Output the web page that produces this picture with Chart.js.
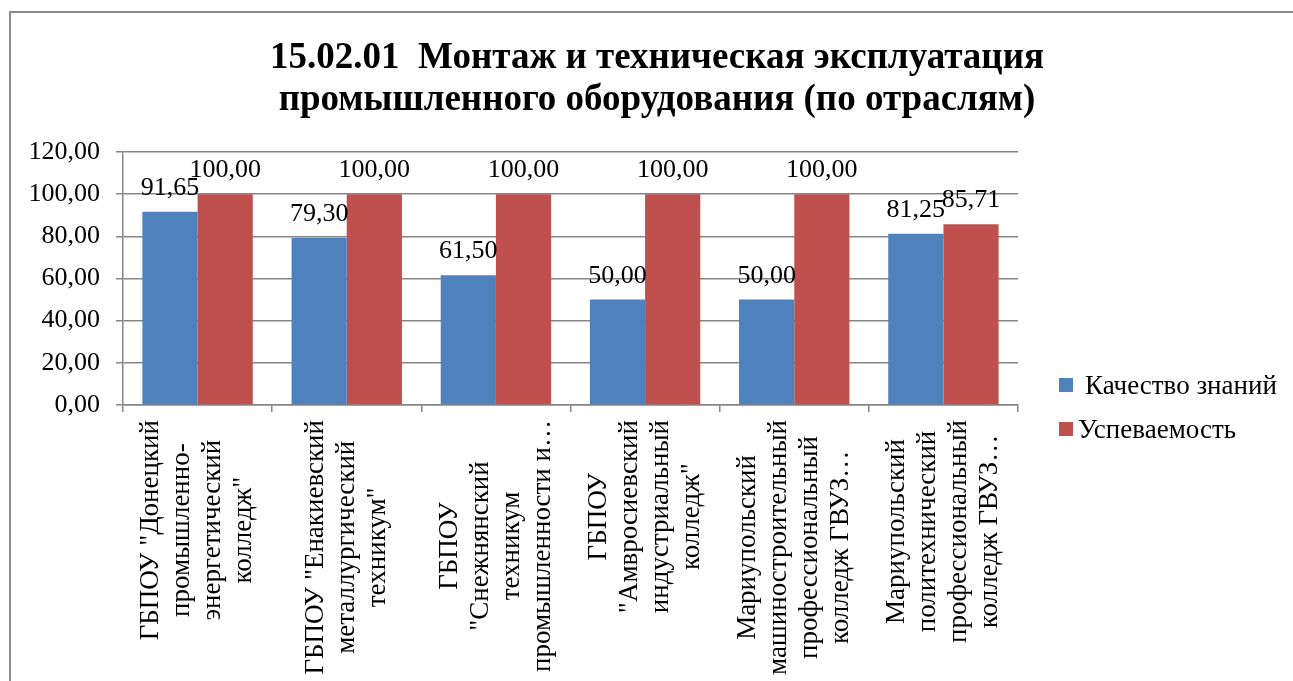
<!DOCTYPE html>
<html>
<head>
<meta charset="utf-8">
<script src="https://cdn.jsdelivr.net/npm/chart.js@4/dist/chart.umd.min.js"></script>
<style>
  html, body { margin: 0; padding: 0; background: #fff; overflow: hidden; }
  #frame { position: absolute; left: 9px; top: 11px; width: 1400px; height: 800px; border: 2px solid #8a8a8a; }
  #wrap { position: absolute; left: 0; top: 0; width: 1293px; height: 681px; }
</style>
</head>
<body>
<div id="frame"></div>
<div id="wrap"><canvas id="chart" width="1293" height="681"></canvas></div>
<script>
// data
const titleLines = ['15.02.01  Монтаж и техническая эксплуатация', 'промышленного оборудования (по отраслям)'];
const categories = [
    ['ГБПОУ "Донецкий', 'промышленно-', 'энергетический', 'колледж"'],
    ['ГБПОУ "Енакиевский', 'металлургический', 'техникум"'],
    ['ГБПОУ', '"Снежнянский', 'техникум', 'промышленности и…'],
    ['ГБПОУ', '"Амвросиевский', 'индустриальный', 'колледж"'],
    ['Мариупольский', 'машиностроительный', 'профессиональный', 'колледж ГВУЗ…'],
    ['Мариупольский', 'политехнический', 'профессиональный', 'колледж ГВУЗ…']
];
const seriesNames = ['Качество знаний', 'Успеваемость'];
const qualityValues = [91.65, 79.30, 61.50, 50.00, 50.00, 81.25];
const progressValues = [100.00, 100.00, 100.00, 100.00, 100.00, 85.71];
const yTicks = [0, 20, 40, 60, 80, 100, 120];

const SERIF = '"Liberation Serif", "Times New Roman", serif';
const fmt = v => v.toFixed(2).replace('.', ',');

// title is centred over the whole picture, not only over the plot
const pageTitle = {
    id: 'pageTitle',
    afterDraw(chart) {
        const ctx = chart.ctx;
        ctx.save();
        ctx.font = 'bold 37px ' + SERIF;
        ctx.fillStyle = '#000';
        ctx.textAlign = 'center';
        ctx.textBaseline = 'middle';
        titleLines.forEach((t, i) => ctx.fillText(t, 657, 58 + i * 42));
        ctx.restore();
    }
};

// value labels above the bars
const valueLabels = {
    id: 'valueLabels',
    afterDatasetsDraw(chart) {
        const ctx = chart.ctx;
        ctx.save();
        ctx.font = '26px ' + SERIF;
        ctx.fillStyle = '#000';
        ctx.textAlign = 'center';
        ctx.textBaseline = 'alphabetic';
        chart.data.datasets.forEach((ds, di) => {
            chart.getDatasetMeta(di).data.forEach((bar, i) => {
                ctx.fillText(fmt(ds.data[i]), bar.x, bar.y - 17);
            });
        });
        ctx.restore();
    }
};

// rotated category labels, lines centred inside the block (like Excel)
const rotatedLabels = {
    id: 'rotatedLabels',
    afterDraw(chart) {
        const ctx = chart.ctx;
        const xs = chart.scales.x;
        const lh = 31;
        const top = xs.top + 15;
        ctx.save();
        ctx.font = '27px ' + SERIF;
        ctx.fillStyle = '#000';
        ctx.textAlign = 'center';
        ctx.textBaseline = 'middle';
        chart.data.labels.forEach((lines, i) => {
            const maxW = Math.max(...lines.map(l => ctx.measureText(l).width));
            const x = xs.getPixelForValue(i);
            ctx.save();
            ctx.translate(x, top + maxW / 2);
            ctx.rotate(-Math.PI / 2);
            lines.forEach((l, k) => ctx.fillText(l, 0, (k - (lines.length - 1) / 2) * lh));
            ctx.restore();
        });
        ctx.restore();
    }
};

// legend on the right, lower than centre
const sideLegend = {
    id: 'sideLegend',
    afterDraw(chart) {
        const ctx = chart.ctx;
        ctx.save();
        ctx.font = '27px ' + SERIF;
        ctx.textBaseline = 'alphabetic';
        ctx.textAlign = 'left';
        chart.data.datasets.forEach((ds, i) => {
            const y = 378 + i * 44;
            ctx.fillStyle = ds.backgroundColor;
            ctx.fillRect(1059, y, 14, 14);
            ctx.fillStyle = '#000';
            ctx.fillText(ds.label, i === 0 ? 1085 : 1078, y + 16);
        });
        ctx.restore();
    }
};

new Chart(document.getElementById('chart'), {
    type: 'bar',
    data: {
        labels: categories,
        datasets: [
            { label: seriesNames[0], data: qualityValues, backgroundColor: '#4F81BD' },
            { label: seriesNames[1], data: progressValues, backgroundColor: '#C0504D' }
        ]
    },
    options: {
        responsive: false,
        animation: false,
        layout: { padding: { left: 0, right: 275, top: 152, bottom: 0 } },
        datasets: { bar: { categoryPercentage: 0.74, barPercentage: 1.0 } },
        plugins: {
            legend: { display: false },
            tooltip: { enabled: false },
            title: { display: false }
        },
        scales: {
            x: {
                offset: true,
                grid: { offset: true, drawOnChartArea: false, drawTicks: true, tickLength: 7, color: '#868686', lineWidth: 1.5 },
                border: { color: '#868686', width: 1.5 },
                ticks: { display: false },
                afterFit(scale) { scale.height = 276; }
            },
            y: {
                min: 0,
                max: 120,
                afterBuildTicks(scale) { scale.ticks = yTicks.map(v => ({ value: v })); },
                grid: { color: '#868686', lineWidth: 1.5, tickLength: 7 },
                border: { color: '#868686', width: 1.5 },
                ticks: {
                    color: '#000',
                    padding: 16,
                    font: { family: SERIF, size: 26 },
                    callback: v => fmt(v)
                },
                afterFit(scale) { scale.width = 123; }
            }
        }
    },
    plugins: [pageTitle, valueLabels, rotatedLabels, sideLegend]
});
</script>
</body>
</html>
